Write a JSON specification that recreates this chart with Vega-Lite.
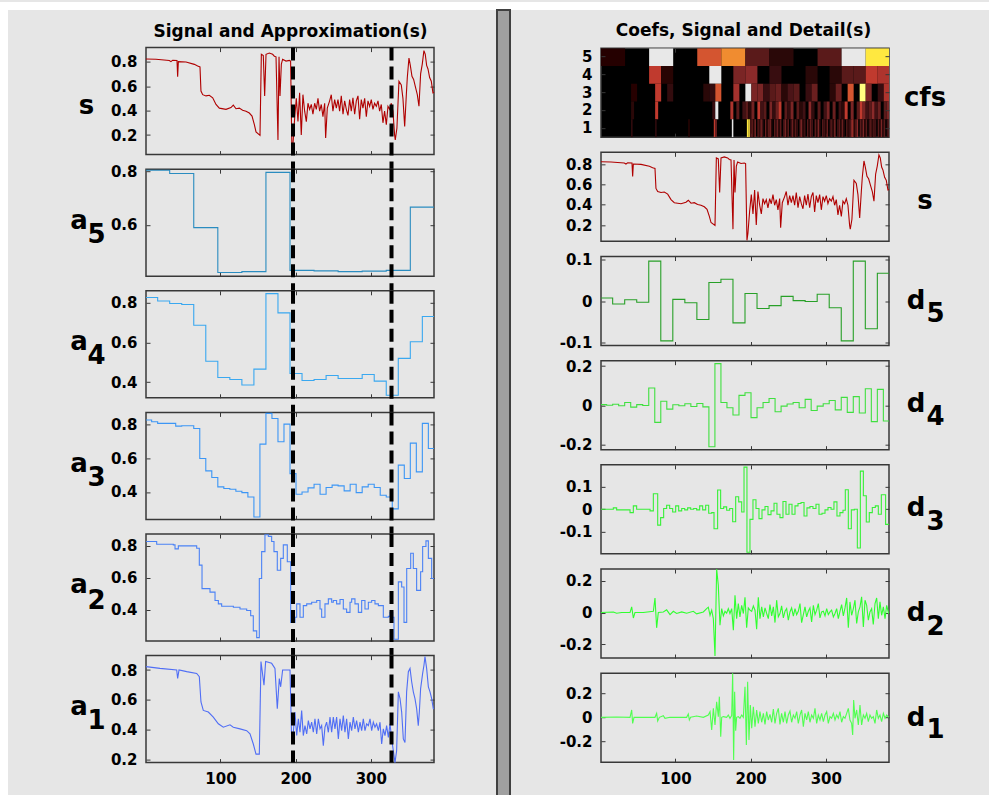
{
"padding": 0,
"background": "#e6e6e6",
"datasets": {
"s": [{"x":1,"y":0.822},{"x":14.3,"y":0.82},{"x":32,"y":0.81},{"x":34.2,"y":0.8},{"x":36.5,"y":0.812},{"x":42.2,"y":0.81},{"x":43.1,"y":0.677},{"x":44,"y":0.8},{"x":54.2,"y":0.797},{"x":65.3,"y":0.778},{"x":69.7,"y":0.764},{"x":72.8,"y":0.757},{"x":74.1,"y":0.56},{"x":76.4,"y":0.53},{"x":80.8,"y":0.52},{"x":85.2,"y":0.525},{"x":89.7,"y":0.504},{"x":94.1,"y":0.45},{"x":98.5,"y":0.42},{"x":107.4,"y":0.41},{"x":114,"y":0.425},{"x":117.1,"y":0.444},{"x":120.7,"y":0.415},{"x":125.1,"y":0.42},{"x":129.5,"y":0.403},{"x":134,"y":0.395},{"x":138.4,"y":0.38},{"x":142,"y":0.355},{"x":145.1,"y":0.285},{"x":147.3,"y":0.225},{"x":152.6,"y":0.197},{"x":154.4,"y":0.86},{"x":157,"y":0.85},{"x":158.8,"y":0.52},{"x":160.6,"y":0.86},{"x":165,"y":0.87},{"x":169.4,"y":0.86},{"x":171.7,"y":0.845},{"x":173.9,"y":0.84},{"x":176.5,"y":0.16},{"x":177.9,"y":0.84},{"x":179.2,"y":0.52},{"x":181,"y":0.78},{"x":182.7,"y":0.82},{"x":187.2,"y":0.805},{"x":191.6,"y":0.81},{"x":193.3,"y":0.805},{"x":195.1,"y":0.05},{"x":196.4,"y":0.12},{"x":198.7,"y":0.34},{"x":200.9,"y":0.5},{"x":203.1,"y":0.31},{"x":205.3,"y":0.545},{"x":207.5,"y":0.2},{"x":209.7,"y":0.53},{"x":212,"y":0.395},{"x":214.2,"y":0.31},{"x":216.4,"y":0.46},{"x":218.6,"y":0.41},{"x":220.8,"y":0.45},{"x":223,"y":0.37},{"x":225.3,"y":0.46},{"x":227.5,"y":0.41},{"x":229.7,"y":0.5},{"x":231.9,"y":0.395},{"x":234.1,"y":0.45},{"x":236.3,"y":0.35},{"x":238.6,"y":0.46},{"x":239.9,"y":0.175},{"x":242.1,"y":0.42},{"x":245.2,"y":0.48},{"x":247.4,"y":0.53},{"x":249.6,"y":0.395},{"x":251.9,"y":0.49},{"x":254.1,"y":0.42},{"x":256.3,"y":0.49},{"x":258.5,"y":0.395},{"x":260.7,"y":0.52},{"x":263,"y":0.37},{"x":265.2,"y":0.48},{"x":267.4,"y":0.41},{"x":269.6,"y":0.36},{"x":271.8,"y":0.49},{"x":274,"y":0.395},{"x":276.2,"y":0.505},{"x":278.5,"y":0.37},{"x":280.7,"y":0.48},{"x":282.9,"y":0.52},{"x":285.1,"y":0.33},{"x":287.3,"y":0.49},{"x":289.5,"y":0.42},{"x":291.8,"y":0.5},{"x":294,"y":0.35},{"x":296.2,"y":0.48},{"x":298.4,"y":0.435},{"x":300.6,"y":0.49},{"x":302.8,"y":0.41},{"x":305,"y":0.46},{"x":307.3,"y":0.435},{"x":309.5,"y":0.48},{"x":311.7,"y":0.395},{"x":313.9,"y":0.45},{"x":316.1,"y":0.3},{"x":318.3,"y":0.395},{"x":320.6,"y":0.285},{"x":322.8,"y":0.435},{"x":325,"y":0.41},{"x":327.2,"y":0.46},{"x":329.4,"y":0.395},{"x":331.6,"y":0.2},{"x":332.5,"y":0.16},{"x":334.7,"y":0.257},{"x":337.4,"y":0.64},{"x":340.5,"y":0.61},{"x":342.7,"y":0.5},{"x":345,"y":0.27},{"x":347.2,"y":0.53},{"x":348.5,"y":0.67},{"x":350.7,"y":0.83},{"x":352.5,"y":0.77},{"x":354.7,"y":0.68},{"x":356.9,"y":0.655},{"x":359.6,"y":0.585},{"x":361.8,"y":0.53},{"x":364,"y":0.435},{"x":366.2,"y":0.7},{"x":368.4,"y":0.78},{"x":370.6,"y":0.89},{"x":372.4,"y":0.86},{"x":374.2,"y":0.77},{"x":376,"y":0.74},{"x":378.2,"y":0.67},{"x":380.4,"y":0.64},{"x":382.6,"y":0.545},{"x":384,"y":0.55}],
"a5": [{"x":1,"y":0.805},{"x":32.5,"y":0.793},{"x":64.5,"y":0.59},{"x":96.5,"y":0.422},{"x":128.5,"y":0.425},{"x":160.5,"y":0.797},{"x":192.5,"y":0.43},{"x":224.5,"y":0.428},{"x":256.5,"y":0.425},{"x":288.5,"y":0.427},{"x":320.5,"y":0.43},{"x":352.5,"y":0.667},{"x":384,"y":0.667}],
"a4": [{"x":1,"y":0.825},{"x":16.5,"y":0.808},{"x":32.5,"y":0.795},{"x":48.5,"y":0.79},{"x":64.5,"y":0.686},{"x":80.5,"y":0.505},{"x":96.5,"y":0.423},{"x":112.5,"y":0.413},{"x":128.5,"y":0.385},{"x":144.5,"y":0.465},{"x":160.5,"y":0.845},{"x":176.5,"y":0.748},{"x":192.5,"y":0.443},{"x":208.5,"y":0.408},{"x":224.5,"y":0.413},{"x":240.5,"y":0.433},{"x":256.5,"y":0.418},{"x":272.5,"y":0.418},{"x":288.5,"y":0.438},{"x":304.5,"y":0.405},{"x":320.5,"y":0.334},{"x":336.5,"y":0.519},{"x":352.5,"y":0.603},{"x":368.5,"y":0.73},{"x":384,"y":0.73}],
"a3": [{"x":1,"y":0.824},{"x":8.5,"y":0.814},{"x":16.5,"y":0.804},{"x":24.5,"y":0.804},{"x":32.5,"y":0.804},{"x":40.5,"y":0.788},{"x":48.5,"y":0.79},{"x":56.5,"y":0.79},{"x":64.5,"y":0.774},{"x":72.5,"y":0.597},{"x":80.5,"y":0.524},{"x":88.5,"y":0.485},{"x":96.5,"y":0.43},{"x":104.5,"y":0.42},{"x":112.5,"y":0.416},{"x":120.5,"y":0.404},{"x":128.5,"y":0.396},{"x":136.5,"y":0.37},{"x":144.5,"y":0.252},{"x":152.5,"y":0.682},{"x":160.5,"y":0.863},{"x":168.5,"y":0.833},{"x":176.5,"y":0.696},{"x":184.5,"y":0.8},{"x":192.5,"y":0.508},{"x":200.5,"y":0.386},{"x":208.5,"y":0.4},{"x":216.5,"y":0.424},{"x":224.5,"y":0.445},{"x":232.5,"y":0.386},{"x":240.5,"y":0.426},{"x":248.5,"y":0.44},{"x":256.5,"y":0.436},{"x":264.5,"y":0.406},{"x":272.5,"y":0.445},{"x":280.5,"y":0.396},{"x":288.5,"y":0.43},{"x":296.5,"y":0.445},{"x":304.5,"y":0.426},{"x":312.5,"y":0.38},{"x":320.5,"y":0.37},{"x":328.5,"y":0.3},{"x":336.5,"y":0.558},{"x":344.5,"y":0.479},{"x":352.5,"y":0.688},{"x":360.5,"y":0.518},{"x":368.5,"y":0.804},{"x":376.5,"y":0.656},{"x":384,"y":0.656}],
"a2": [{"x":1,"y":0.825},{"x":15.2,"y":0.808},{"x":37.3,"y":0.804},{"x":39.6,"y":0.779},{"x":44,"y":0.798},{"x":68.4,"y":0.783},{"x":71.9,"y":0.678},{"x":75.5,"y":0.531},{"x":86.1,"y":0.509},{"x":92.8,"y":0.457},{"x":97.2,"y":0.436},{"x":101.6,"y":0.421},{"x":117.2,"y":0.415},{"x":126,"y":0.404},{"x":134.9,"y":0.394},{"x":140.2,"y":0.362},{"x":143.7,"y":0.267},{"x":148.2,"y":0.225},{"x":151.7,"y":0.594},{"x":154.8,"y":0.762},{"x":159.2,"y":0.867},{"x":163.7,"y":0.857},{"x":168.1,"y":0.825},{"x":171.2,"y":0.762},{"x":175.6,"y":0.646},{"x":180.1,"y":0.72},{"x":183.6,"y":0.804},{"x":188.9,"y":0.699},{"x":193.4,"y":0.32},{"x":199.1,"y":0.352},{"x":201.4,"y":0.436},{"x":205.8,"y":0.352},{"x":210.2,"y":0.425},{"x":214.7,"y":0.436},{"x":221.3,"y":0.446},{"x":228,"y":0.457},{"x":232.4,"y":0.404},{"x":234.6,"y":0.352},{"x":239,"y":0.436},{"x":243.5,"y":0.467},{"x":247.9,"y":0.446},{"x":250.1,"y":0.457},{"x":254.5,"y":0.436},{"x":259,"y":0.463},{"x":263.4,"y":0.404},{"x":267.8,"y":0.383},{"x":272.3,"y":0.446},{"x":274.5,"y":0.467},{"x":278.9,"y":0.436},{"x":283.4,"y":0.383},{"x":287.8,"y":0.457},{"x":292.2,"y":0.404},{"x":296.7,"y":0.446},{"x":301.1,"y":0.457},{"x":305.5,"y":0.436},{"x":310,"y":0.425},{"x":314.4,"y":0.425},{"x":316.6,"y":0.352},{"x":323.3,"y":0.358},{"x":325.5,"y":0.383},{"x":329,"y":0.352},{"x":330.8,"y":0.215},{"x":336.6,"y":0.573},{"x":341,"y":0.541},{"x":344.1,"y":0.32},{"x":347.7,"y":0.657},{"x":353,"y":0.752},{"x":356.5,"y":0.657},{"x":360.9,"y":0.52},{"x":366.2,"y":0.636},{"x":368.9,"y":0.794},{"x":373.3,"y":0.829},{"x":376.5,"y":0.72},{"x":380.9,"y":0.594},{"x":384,"y":0.594}],
"a1": [{"x":1,"y":0.823},{"x":19.6,"y":0.811},{"x":41.8,"y":0.8},{"x":43.1,"y":0.743},{"x":44.9,"y":0.8},{"x":55.1,"y":0.789},{"x":68.4,"y":0.777},{"x":71.9,"y":0.755},{"x":74.1,"y":0.585},{"x":77.2,"y":0.528},{"x":83.9,"y":0.517},{"x":90.5,"y":0.483},{"x":97.2,"y":0.438},{"x":103.8,"y":0.415},{"x":112.7,"y":0.431},{"x":117.1,"y":0.415},{"x":126,"y":0.404},{"x":134.9,"y":0.392},{"x":139.3,"y":0.37},{"x":143.7,"y":0.302},{"x":147.3,"y":0.234},{"x":151.7,"y":0.234},{"x":153.9,"y":0.857},{"x":157.9,"y":0.698},{"x":160.1,"y":0.857},{"x":168.1,"y":0.845},{"x":172.5,"y":0.811},{"x":175.6,"y":0.54},{"x":178.3,"y":0.743},{"x":180.1,"y":0.687},{"x":182.7,"y":0.8},{"x":192.5,"y":0.8},{"x":194.7,"y":0.336},{"x":196.9,"y":0.381},{"x":199.1,"y":0.517},{"x":201.4,"y":0.359},{"x":203.6,"y":0.472},{"x":205.8,"y":0.381},{"x":208,"y":0.528},{"x":210.2,"y":0.359},{"x":212.4,"y":0.426},{"x":214.7,"y":0.37},{"x":216.9,"y":0.46},{"x":219.1,"y":0.404},{"x":221.3,"y":0.449},{"x":223.5,"y":0.381},{"x":225.7,"y":0.472},{"x":228,"y":0.37},{"x":230.2,"y":0.472},{"x":232.4,"y":0.404},{"x":234.6,"y":0.426},{"x":236.8,"y":0.291},{"x":239,"y":0.415},{"x":241.2,"y":0.449},{"x":243.5,"y":0.381},{"x":245.7,"y":0.483},{"x":247.9,"y":0.381},{"x":250.1,"y":0.483},{"x":252.3,"y":0.404},{"x":254.5,"y":0.483},{"x":256.8,"y":0.336},{"x":259,"y":0.472},{"x":261.2,"y":0.392},{"x":263.4,"y":0.494},{"x":265.6,"y":0.381},{"x":267.8,"y":0.472},{"x":270.1,"y":0.336},{"x":272.3,"y":0.449},{"x":274.5,"y":0.392},{"x":276.7,"y":0.483},{"x":278.9,"y":0.404},{"x":281.1,"y":0.46},{"x":283.4,"y":0.381},{"x":285.6,"y":0.449},{"x":287.8,"y":0.392},{"x":290,"y":0.472},{"x":292.2,"y":0.392},{"x":294.4,"y":0.438},{"x":296.7,"y":0.426},{"x":298.9,"y":0.472},{"x":301.1,"y":0.392},{"x":303.3,"y":0.449},{"x":305.5,"y":0.415},{"x":307.7,"y":0.438},{"x":310,"y":0.392},{"x":312.2,"y":0.449},{"x":314.4,"y":0.302},{"x":316.6,"y":0.404},{"x":318.8,"y":0.359},{"x":321,"y":0.426},{"x":323.3,"y":0.347},{"x":325.5,"y":0.438},{"x":327.7,"y":0.336},{"x":329.9,"y":0.257},{"x":332.1,"y":0.177},{"x":334.3,"y":0.257},{"x":336.6,"y":0.653},{"x":338.8,"y":0.608},{"x":341,"y":0.517},{"x":343.2,"y":0.336},{"x":345.4,"y":0.313},{"x":347.6,"y":0.653},{"x":349.9,"y":0.789},{"x":352.1,"y":0.811},{"x":354.3,"y":0.721},{"x":356.5,"y":0.653},{"x":358.7,"y":0.608},{"x":360.9,"y":0.54},{"x":363.1,"y":0.426},{"x":364.5,"y":0.517},{"x":366.2,"y":0.675},{"x":368.9,"y":0.777},{"x":370.7,"y":0.834},{"x":372,"y":0.89},{"x":374.2,"y":0.811},{"x":376.5,"y":0.687},{"x":378.7,"y":0.653},{"x":380.9,"y":0.608},{"x":383.1,"y":0.54},{"x":384,"y":0.54}],
"d5": [{"x":1,"y":0.007},{"x":16.5,"y":-0.007},{"x":32.5,"y":0.003},{"x":48.5,"y":-0.003},{"x":64.5,"y":0.095},{"x":80.5,"y":-0.095},{"x":96.5,"y":0.004},{"x":112.5,"y":-0.004},{"x":128.5,"y":-0.044},{"x":144.5,"y":0.044},{"x":160.5,"y":0.052},{"x":176.5,"y":-0.052},{"x":192.5,"y":0.018},{"x":208.5,"y":-0.018},{"x":224.5,"y":-0.011},{"x":240.5,"y":0.011},{"x":256.5,"y":0.001},{"x":272.5,"y":-0.001},{"x":288.5,"y":0.016},{"x":304.5,"y":-0.016},{"x":320.5,"y":-0.095},{"x":336.5,"y":0.095},{"x":352.5,"y":-0.066},{"x":368.5,"y":0.066},{"x":384,"y":0.066}],
"d4": [{"x":1,"y":0.003},{"x":8.5,"y":0},{"x":16.5,"y":0.005},{"x":24.5,"y":-0.003},{"x":32.5,"y":0.0135},{"x":40.5,"y":-0.01},{"x":48.5,"y":0.003},{"x":56.5,"y":-0.002},{"x":64.5,"y":0.088},{"x":72.5,"y":-0.088},{"x":80.5,"y":0.02},{"x":88.5,"y":-0.02},{"x":96.5,"y":0.002},{"x":104.5,"y":-0.003},{"x":112.5,"y":0.007},{"x":120.5,"y":-0.007},{"x":128.5,"y":0.0085},{"x":136.5,"y":-0.0085},{"x":144.5,"y":-0.213},{"x":152.5,"y":0.213},{"x":160.5,"y":0.0135},{"x":168.5,"y":-0.0135},{"x":176.5,"y":-0.05},{"x":184.5,"y":0.05},{"x":192.5,"y":0.064},{"x":200.5,"y":-0.064},{"x":208.5,"y":-0.0135},{"x":216.5,"y":0.0135},{"x":224.5,"y":0.034},{"x":232.5,"y":-0.034},{"x":240.5,"y":-0.005},{"x":248.5,"y":0.006},{"x":256.5,"y":0.0135},{"x":264.5,"y":-0.0135},{"x":272.5,"y":0.03},{"x":280.5,"y":-0.027},{"x":288.5,"y":-0.005},{"x":296.5,"y":0.007},{"x":304.5,"y":0.024},{"x":312.5,"y":-0.024},{"x":320.5,"y":0.04},{"x":328.5,"y":-0.037},{"x":336.5,"y":0.044},{"x":344.5,"y":-0.04},{"x":352.5,"y":0.084},{"x":360.5,"y":-0.084},{"x":368.5,"y":0.081},{"x":376.5,"y":-0.081},{"x":384,"y":-0.081}],
"d3": [{"x":1,"y":0},{"x":17.4,"y":0.006},{"x":21.8,"y":-0.003},{"x":39.6,"y":-0.015},{"x":44,"y":0.015},{"x":48.4,"y":0},{"x":66.2,"y":-0.0075},{"x":70.6,"y":0.069},{"x":76.4,"y":-0.071},{"x":80.3,"y":-0.0375},{"x":84.3,"y":0.003},{"x":88.3,"y":0.018},{"x":92.3,"y":0.003},{"x":96.3,"y":-0.012},{"x":100.3,"y":0.015},{"x":104.3,"y":-0.0075},{"x":108.3,"y":0.003},{"x":112.3,"y":-0.003},{"x":116.2,"y":0.006},{"x":120.2,"y":0},{"x":124.2,"y":0.003},{"x":128.2,"y":-0.003},{"x":132.2,"y":0.015},{"x":136.2,"y":-0.003},{"x":140.2,"y":0.018},{"x":144.2,"y":-0.018},{"x":148.2,"y":-0.015},{"x":151.3,"y":-0.087},{"x":156.1,"y":0.086},{"x":160.1,"y":0.003},{"x":164.1,"y":0.0105},{"x":168.1,"y":-0.0045},{"x":172.1,"y":0.003},{"x":176.1,"y":-0.056},{"x":180.1,"y":0.056},{"x":184.1,"y":0.033},{"x":188.1,"y":-0.012},{"x":191.2,"y":0.188},{"x":195.1,"y":-0.192},{"x":199.1,"y":-0.045},{"x":203.1,"y":0.042},{"x":207.1,"y":0.003},{"x":211.1,"y":-0.042},{"x":215.1,"y":-0.003},{"x":219.1,"y":0.012},{"x":223.1,"y":-0.024},{"x":227.1,"y":-0.0075},{"x":231.1,"y":0.027},{"x":235,"y":-0.0225},{"x":239,"y":-0.0375},{"x":243,"y":0.0345},{"x":247,"y":-0.0225},{"x":251,"y":0.0225},{"x":255,"y":-0.0225},{"x":259,"y":0.015},{"x":263,"y":0.0255},{"x":267,"y":0.03},{"x":271,"y":-0.03},{"x":274.9,"y":0.006},{"x":278.9,"y":0.012},{"x":282.9,"y":0.003},{"x":286.9,"y":0.0225},{"x":290.9,"y":-0.0225},{"x":294.9,"y":-0.018},{"x":298.9,"y":-0.003},{"x":302.9,"y":0.0075},{"x":306.9,"y":0},{"x":310.8,"y":0.033},{"x":314.8,"y":-0.03},{"x":318.8,"y":-0.015},{"x":322.8,"y":-0.0045},{"x":325.9,"y":0.087},{"x":329.9,"y":-0.087},{"x":333.9,"y":-0.003},{"x":337.9,"y":0},{"x":341.9,"y":-0.173},{"x":345.9,"y":0.17},{"x":349.9,"y":0.06},{"x":353.8,"y":-0.057},{"x":357.8,"y":-0.015},{"x":361.8,"y":0.0075},{"x":365.8,"y":0.015},{"x":369.8,"y":-0.0225},{"x":373.8,"y":0.0645},{"x":379.5,"y":-0.0675},{"x":384,"y":-0.0675}],
"d2": [{"x":1,"y":0},{"x":17.4,"y":0.004},{"x":21.8,"y":-0.004},{"x":28.5,"y":0},{"x":39.6,"y":0},{"x":41.8,"y":0.036},{"x":44,"y":-0.034},{"x":46.2,"y":0},{"x":57.3,"y":0},{"x":70.6,"y":0.008},{"x":72.8,"y":0.092},{"x":75,"y":-0.096},{"x":77.2,"y":0},{"x":83.9,"y":0.004},{"x":88.3,"y":0.017},{"x":92.8,"y":-0.013},{"x":97.2,"y":0.008},{"x":101.6,"y":-0.006},{"x":108.3,"y":0.004},{"x":114.9,"y":-0.004},{"x":123.8,"y":0.008},{"x":128.2,"y":-0.008},{"x":137.1,"y":0.004},{"x":141.5,"y":0.025},{"x":143.7,"y":0.034},{"x":146,"y":-0.017},{"x":148.2,"y":0.015},{"x":150.4,"y":-0.038},{"x":152.6,"y":-0.273},{"x":154.8,"y":0.273},{"x":157,"y":0.172},{"x":159.2,"y":-0.08},{"x":161.5,"y":0.025},{"x":163.7,"y":-0.021},{"x":165.9,"y":0.008},{"x":168.1,"y":-0.004},{"x":170.3,"y":0.025},{"x":172.5,"y":-0.006},{"x":174.8,"y":0.025},{"x":177,"y":-0.111},{"x":179.2,"y":0.109},{"x":181.4,"y":-0.038},{"x":183.6,"y":0.057},{"x":185.8,"y":-0.027},{"x":188.1,"y":0.046},{"x":190.3,"y":-0.006},{"x":192.5,"y":0.096},{"x":194.7,"y":-0.096},{"x":196.9,"y":0.029},{"x":199.1,"y":0.015},{"x":201.4,"y":0.008},{"x":203.6,"y":0.042},{"x":205.8,"y":0.015},{"x":208,"y":-0.105},{"x":210.2,"y":0.096},{"x":212.4,"y":-0.038},{"x":214.7,"y":0.036},{"x":216.9,"y":-0.027},{"x":219.1,"y":0.029},{"x":221.3,"y":-0.006},{"x":223.5,"y":-0.038},{"x":225.7,"y":0.05},{"x":228,"y":-0.021},{"x":230.2,"y":0.036},{"x":232.4,"y":-0.063},{"x":234.6,"y":0.078},{"x":236.8,"y":-0.027},{"x":239,"y":-0.006},{"x":241.2,"y":0.042},{"x":243.5,"y":-0.034},{"x":245.7,"y":0.008},{"x":247.9,"y":0.025},{"x":250.1,"y":-0.048},{"x":252.3,"y":0.004},{"x":254.5,"y":0.029},{"x":256.8,"y":-0.023},{"x":259,"y":0.025},{"x":261.2,"y":-0.013},{"x":263.4,"y":0.008},{"x":265.6,"y":0.057},{"x":267.8,"y":-0.063},{"x":270.1,"y":-0.013},{"x":272.3,"y":0.036},{"x":274.5,"y":-0.027},{"x":276.7,"y":0.008},{"x":278.9,"y":0.029},{"x":281.1,"y":-0.059},{"x":283.4,"y":0.046},{"x":285.6,"y":-0.013},{"x":287.8,"y":0.015},{"x":290,"y":0.057},{"x":292.2,"y":-0.034},{"x":294.4,"y":0.004},{"x":296.7,"y":0.008},{"x":298.9,"y":-0.021},{"x":301.1,"y":0.025},{"x":303.3,"y":-0.013},{"x":305.5,"y":0.004},{"x":307.7,"y":0.015},{"x":310,"y":-0.027},{"x":312.2,"y":-0.006},{"x":314.4,"y":0.025},{"x":316.6,"y":-0.038},{"x":318.8,"y":0.008},{"x":321,"y":0.05},{"x":323.3,"y":-0.021},{"x":325.5,"y":0.029},{"x":327.7,"y":0.092},{"x":329.9,"y":-0.096},{"x":332.1,"y":0.067},{"x":334.3,"y":-0.017},{"x":336.6,"y":0.025},{"x":338.8,"y":0.078},{"x":341,"y":-0.069},{"x":343.2,"y":0.004},{"x":345.4,"y":0.036},{"x":347.6,"y":0.099},{"x":349.9,"y":-0.09},{"x":352.1,"y":0.078},{"x":354.3,"y":0.046},{"x":356.5,"y":-0.048},{"x":358.7,"y":0.004},{"x":360.9,"y":0.025},{"x":363.1,"y":-0.075},{"x":365.4,"y":0.057},{"x":367.6,"y":0.092},{"x":369.8,"y":-0.038},{"x":372,"y":0.067},{"x":374.2,"y":-0.017},{"x":376.5,"y":0.036},{"x":378.7,"y":-0.038},{"x":380.9,"y":0.046},{"x":383.5,"y":-0.006}],
"d1": [{"x":1,"y":0},{"x":21.8,"y":0.003},{"x":39.6,"y":0},{"x":41.8,"y":0.061},{"x":43.1,"y":-0.05},{"x":44.9,"y":0},{"x":72.8,"y":0},{"x":75,"y":0.033},{"x":76.4,"y":-0.03},{"x":78.6,"y":0},{"x":83.9,"y":0.014},{"x":86.1,"y":-0.008},{"x":92.8,"y":0},{"x":114.9,"y":0},{"x":117.1,"y":0.028},{"x":118.5,"y":-0.022},{"x":120.2,"y":0},{"x":128.2,"y":0.011},{"x":137.1,"y":0},{"x":143.7,"y":0.019},{"x":146,"y":0.047},{"x":148.2,"y":-0.105},{"x":150.4,"y":0.074},{"x":152.6,"y":-0.063},{"x":154.8,"y":0.129},{"x":157,"y":0.006},{"x":158.4,"y":0.171},{"x":160.2,"y":-0.16},{"x":161.5,"y":0},{"x":163.7,"y":0.006},{"x":168.1,"y":0},{"x":170.3,"y":0.019},{"x":172.5,"y":-0.008},{"x":174.8,"y":0.014},{"x":176.1,"y":0.364},{"x":177.4,"y":-0.353},{"x":178.7,"y":0.212},{"x":180.1,"y":-0.11},{"x":181.4,"y":0},{"x":183.6,"y":0.006},{"x":185.8,"y":-0.008},{"x":188.1,"y":0.019},{"x":190.3,"y":0},{"x":192.5,"y":0.253},{"x":194.3,"y":-0.229},{"x":196,"y":0.295},{"x":197.8,"y":-0.187},{"x":199.6,"y":0.102},{"x":201.4,"y":-0.091},{"x":203.6,"y":0.088},{"x":205.8,"y":-0.077},{"x":208,"y":0.061},{"x":210.2,"y":-0.05},{"x":212.4,"y":0.047},{"x":214.7,"y":-0.041},{"x":216.9,"y":0.033},{"x":219.1,"y":-0.058},{"x":221.3,"y":0.047},{"x":223.5,"y":-0.022},{"x":225.7,"y":0.025},{"x":228,"y":-0.041},{"x":230.2,"y":0.069},{"x":232.4,"y":-0.05},{"x":234.6,"y":0.033},{"x":236.8,"y":0.074},{"x":239,"y":-0.058},{"x":241.2,"y":0.033},{"x":243.5,"y":-0.041},{"x":245.7,"y":0.047},{"x":247.9,"y":-0.05},{"x":250.1,"y":0.019},{"x":252.3,"y":0.052},{"x":254.5,"y":-0.041},{"x":256.8,"y":0.019},{"x":259,"y":-0.008},{"x":261.2,"y":0.047},{"x":263.4,"y":-0.05},{"x":265.6,"y":0.019},{"x":267.8,"y":0.061},{"x":270.1,"y":-0.077},{"x":272.3,"y":0.033},{"x":274.5,"y":-0.022},{"x":276.7,"y":0.047},{"x":278.9,"y":-0.041},{"x":281.1,"y":0.019},{"x":283.4,"y":-0.008},{"x":285.6,"y":0.074},{"x":287.8,"y":-0.05},{"x":290,"y":0.019},{"x":292.2,"y":-0.022},{"x":294.4,"y":0.033},{"x":296.7,"y":-0.036},{"x":298.9,"y":0.019},{"x":301.1,"y":0.047},{"x":303.3,"y":-0.05},{"x":305.5,"y":0.006},{"x":307.7,"y":-0.008},{"x":310,"y":0.033},{"x":312.2,"y":-0.022},{"x":314.4,"y":0.019},{"x":316.6,"y":-0.008},{"x":318.8,"y":0.047},{"x":321,"y":-0.041},{"x":323.3,"y":0.006},{"x":325.5,"y":-0.008},{"x":327.7,"y":0.033},{"x":329.9,"y":0.074},{"x":332.1,"y":-0.022},{"x":334.3,"y":-0.05},{"x":335.7,"y":-0.146},{"x":337,"y":0.143},{"x":338.8,"y":-0.008},{"x":341,"y":0.061},{"x":343.2,"y":-0.063},{"x":345.4,"y":0.102},{"x":347.6,"y":-0.063},{"x":349.9,"y":0.019},{"x":352.1,"y":-0.008},{"x":354.3,"y":0.033},{"x":356.5,"y":-0.036},{"x":358.7,"y":0.019},{"x":360.9,"y":-0.008},{"x":363.1,"y":0.006},{"x":365.4,"y":-0.05},{"x":367.6,"y":0.061},{"x":369.8,"y":-0.008},{"x":372,"y":0.019},{"x":374.2,"y":-0.036},{"x":376.5,"y":0.033},{"x":378.7,"y":-0.008},{"x":380.9,"y":0.019},{"x":383.5,"y":0}],
"dash": [{"x":196.5},{"x":327.5}],
"cfs": [
{"l":5,"x0":1,"x1":33,"v":0.05},{"l":5,"x0":65,"x1":97,"v":1},{"l":5,"x0":129,"x1":161,"v":0.6},{"l":5,"x0":161,"x1":193,"v":0.7},{"l":5,"x0":193,"x1":225,"v":0.2},{"l":5,"x0":225,"x1":257,"v":0.1},{"l":5,"x0":289,"x1":321,"v":0.2},{"l":5,"x0":321,"x1":353,"v":1},{"l":5,"x0":353,"x1":385,"v":0.85},
{"l":4,"x0":65,"x1":81,"v":0.5},{"l":4,"x0":81,"x1":97,"v":0.08},{"l":4,"x0":145,"x1":161,"v":1},{"l":4,"x0":177,"x1":193,"v":0.3},{"l":4,"x0":193,"x1":209,"v":0.35},{"l":4,"x0":225,"x1":241,"v":0.13},{"l":4,"x0":273,"x1":289,"v":0.1},{"l":4,"x0":305,"x1":321,"v":0.1},{"l":4,"x0":321,"x1":337,"v":0.2},{"l":4,"x0":337,"x1":353,"v":0.2},{"l":4,"x0":353,"x1":369,"v":0.5},{"l":4,"x0":369,"x1":385,"v":0.45},
{"l":3,"x0":41,"x1":49,"v":0.06},{"l":3,"x0":73,"x1":81,"v":0.5},{"l":3,"x0":89,"x1":97,"v":0.12},{"l":3,"x0":137,"x1":145,"v":0.1},{"l":3,"x0":145,"x1":153,"v":0.12},{"l":3,"x0":153,"x1":161,"v":0.6},{"l":3,"x0":177,"x1":185,"v":0.42},{"l":3,"x0":193,"x1":201,"v":1},{"l":3,"x0":201,"x1":209,"v":0.3},{"l":3,"x0":209,"x1":217,"v":0.3},{"l":3,"x0":217,"x1":225,"v":0.13},{"l":3,"x0":225,"x1":233,"v":0.2},{"l":3,"x0":233,"x1":241,"v":0.25},{"l":3,"x0":241,"x1":249,"v":0.1},{"l":3,"x0":249,"x1":257,"v":0.17},{"l":3,"x0":257,"x1":265,"v":0.2},{"l":3,"x0":273,"x1":281,"v":0.13},{"l":3,"x0":281,"x1":289,"v":0.25},{"l":3,"x0":305,"x1":313,"v":0.1},{"l":3,"x0":313,"x1":321,"v":0.25},{"l":3,"x0":329,"x1":337,"v":0.6},{"l":3,"x0":345,"x1":353,"v":0.92},{"l":3,"x0":353,"x1":361,"v":0.3},{"l":3,"x0":369,"x1":377,"v":0.13},{"l":3,"x0":377,"x1":385,"v":0.45},
{"l":2,"x0":41,"x1":45,"v":0.1},{"l":2,"x0":73,"x1":77,"v":0.5},{"l":2,"x0":149,"x1":153,"v":0.13},{"l":2,"x0":153,"x1":157,"v":1},{"l":2,"x0":173,"x1":177,"v":0.45},{"l":2,"x0":181,"x1":185,"v":0.2},{"l":2,"x0":189,"x1":193,"v":0.15},{"l":2,"x0":193,"x1":197,"v":0.2},{"l":2,"x0":197,"x1":201,"v":0.1},{"l":2,"x0":201,"x1":205,"v":0.28},{"l":2,"x0":209,"x1":213,"v":0.5},{"l":2,"x0":213,"x1":217,"v":0.15},{"l":2,"x0":217,"x1":221,"v":0.2},{"l":2,"x0":225,"x1":229,"v":0.3},{"l":2,"x0":229,"x1":233,"v":0.12},{"l":2,"x0":233,"x1":237,"v":0.25},{"l":2,"x0":237,"x1":241,"v":0.5},{"l":2,"x0":245,"x1":249,"v":0.2},{"l":2,"x0":249,"x1":253,"v":0.12},{"l":2,"x0":253,"x1":257,"v":0.3},{"l":2,"x0":261,"x1":265,"v":0.2},{"l":2,"x0":265,"x1":269,"v":0.1},{"l":2,"x0":269,"x1":273,"v":0.15},{"l":2,"x0":277,"x1":281,"v":0.35},{"l":2,"x0":281,"x1":285,"v":0.12},{"l":2,"x0":289,"x1":293,"v":0.2},{"l":2,"x0":297,"x1":301,"v":0.15},{"l":2,"x0":301,"x1":305,"v":0.3},{"l":2,"x0":309,"x1":313,"v":0.25},{"l":2,"x0":317,"x1":321,"v":0.15},{"l":2,"x0":321,"x1":325,"v":0.1},{"l":2,"x0":325,"x1":329,"v":0.5},{"l":2,"x0":333,"x1":337,"v":0.3},{"l":2,"x0":341,"x1":345,"v":0.2},{"l":2,"x0":345,"x1":349,"v":0.5},{"l":2,"x0":349,"x1":353,"v":0.3},{"l":2,"x0":353,"x1":357,"v":0.15},{"l":2,"x0":357,"x1":361,"v":0.2},{"l":2,"x0":361,"x1":365,"v":0.35},{"l":2,"x0":365,"x1":369,"v":0.15},{"l":2,"x0":369,"x1":373,"v":0.25},{"l":2,"x0":377,"x1":381,"v":0.2},{"l":2,"x0":381,"x1":385,"v":0.3},
{"l":1,"x0":41,"x1":43,"v":0.12},{"l":1,"x0":73,"x1":75,"v":0.12},{"l":1,"x0":117,"x1":119,"v":0.08},{"l":1,"x0":151,"x1":153,"v":0.5},{"l":1,"x0":153,"x1":155,"v":0.3},{"l":1,"x0":175,"x1":177,"v":1},{"l":1,"x0":195,"x1":197,"v":0.85},{"l":1,"x0":197,"x1":199,"v":0.85},
{"l":1,"x0":199,"x1":201,"v":0.15},{"l":1,"x0":201,"x1":203,"v":0.25},{"l":1,"x0":203,"x1":205,"v":0.1},{"l":1,"x0":205,"x1":207,"v":0.3},{"l":1,"x0":209,"x1":211,"v":0.2},{"l":1,"x0":211,"x1":213,"v":0.12},{"l":1,"x0":213,"x1":215,"v":0.3},{"l":1,"x0":215,"x1":217,"v":0.15},{"l":1,"x0":219,"x1":221,"v":0.25},{"l":1,"x0":221,"x1":223,"v":0.1},{"l":1,"x0":223,"x1":225,"v":0.2},{"l":1,"x0":225,"x1":227,"v":0.3},{"l":1,"x0":227,"x1":229,"v":0.1},{"l":1,"x0":231,"x1":233,"v":0.2},{"l":1,"x0":233,"x1":235,"v":0.15},{"l":1,"x0":235,"x1":237,"v":0.25},{"l":1,"x0":237,"x1":239,"v":0.1},{"l":1,"x0":239,"x1":241,"v":0.2},{"l":1,"x0":243,"x1":245,"v":0.15},{"l":1,"x0":245,"x1":247,"v":0.3},{"l":1,"x0":247,"x1":249,"v":0.1},{"l":1,"x0":249,"x1":251,"v":0.2},{"l":1,"x0":253,"x1":255,"v":0.15},{"l":1,"x0":255,"x1":257,"v":0.25},{"l":1,"x0":257,"x1":259,"v":0.1},{"l":1,"x0":259,"x1":261,"v":0.2},{"l":1,"x0":261,"x1":263,"v":0.12},{"l":1,"x0":265,"x1":267,"v":0.2},{"l":1,"x0":267,"x1":269,"v":0.3},{"l":1,"x0":269,"x1":271,"v":0.1},{"l":1,"x0":271,"x1":273,"v":0.15},{"l":1,"x0":275,"x1":277,"v":0.2},{"l":1,"x0":277,"x1":279,"v":0.1},{"l":1,"x0":279,"x1":281,"v":0.25},{"l":1,"x0":281,"x1":283,"v":0.15},{"l":1,"x0":285,"x1":287,"v":0.2},{"l":1,"x0":287,"x1":289,"v":0.1},{"l":1,"x0":289,"x1":291,"v":0.3},{"l":1,"x0":291,"x1":293,"v":0.12},{"l":1,"x0":295,"x1":297,"v":0.2},{"l":1,"x0":297,"x1":299,"v":0.15},{"l":1,"x0":299,"x1":301,"v":0.1},{"l":1,"x0":301,"x1":303,"v":0.25},{"l":1,"x0":305,"x1":307,"v":0.15},{"l":1,"x0":307,"x1":309,"v":0.2},{"l":1,"x0":309,"x1":311,"v":0.1},{"l":1,"x0":311,"x1":313,"v":0.3},{"l":1,"x0":315,"x1":317,"v":0.15},{"l":1,"x0":317,"x1":319,"v":0.2},{"l":1,"x0":319,"x1":321,"v":0.1},{"l":1,"x0":321,"x1":323,"v":0.25},{"l":1,"x0":323,"x1":325,"v":0.12},{"l":1,"x0":327,"x1":329,"v":0.2},{"l":1,"x0":329,"x1":331,"v":0.1},{"l":1,"x0":331,"x1":333,"v":0.15},{"l":1,"x0":333,"x1":335,"v":0.3},{"l":1,"x0":335,"x1":337,"v":0.45},{"l":1,"x0":337,"x1":339,"v":0.1},{"l":1,"x0":339,"x1":341,"v":0.2},{"l":1,"x0":341,"x1":343,"v":0.35},{"l":1,"x0":345,"x1":347,"v":0.2},{"l":1,"x0":347,"x1":349,"v":0.15},{"l":1,"x0":349,"x1":351,"v":0.3},{"l":1,"x0":351,"x1":353,"v":0.1},{"l":1,"x0":353,"x1":355,"v":0.2},{"l":1,"x0":357,"x1":359,"v":0.15},{"l":1,"x0":359,"x1":361,"v":0.25},{"l":1,"x0":361,"x1":363,"v":0.1},{"l":1,"x0":363,"x1":365,"v":0.2},{"l":1,"x0":365,"x1":367,"v":0.15},{"l":1,"x0":369,"x1":371,"v":0.2},{"l":1,"x0":371,"x1":373,"v":0.1},{"l":1,"x0":373,"x1":375,"v":0.3},{"l":1,"x0":375,"x1":377,"v":0.12},{"l":1,"x0":377,"x1":379,"v":0.2},{"l":1,"x0":381,"x1":383,"v":0.15},{"l":1,"x0":383,"x1":385,"v":0.2}
]
},
"config": {
"view": {"stroke": "#383838", "strokeWidth": 1.5},
"axis": {"domain": false, "grid": false, "ticks": true, "tickSize": -4, "tickColor": "#383838", "tickWidth": 1, "labelFont": "DejaVu Sans", "labelFontWeight": "bold", "labelFontSize": 15, "labelColor": "#000000", "labelPadding": 13, "labelFlush": false, "labelOverlap": false, "labelBound": false, "titleFont": "DejaVu Sans", "titleFontWeight": "bold", "titleFontSize": 26, "titleColor": "#000000", "titleAngle": 0, "titleAlign": "center", "titleBaseline": "alphabetic"},
"line": {"strokeWidth": 1.1, "clip": true}
},
"spacing": 0,
"bounds": "flush",
"vconcat": [
{"width": 989, "height": 8, "view": {"fill": "#ffffff", "stroke": null}, "data": {"values": [{}]}, "mark": {"type": "text", "text": ""}},
{"spacing": 0, "bounds": "flush", "hconcat": [
{"width": 8, "height": 787, "view": {"fill": "#ffffff", "stroke": null}, "data": {"values": [{}]}, "mark": {"type": "text", "text": ""}},
{"width": 138, "height": 787, "view": {"fill": null, "stroke": null}, "data": {"values": [{}]}, "mark": {"type": "text", "text": ""}},
{"spacing": 14.6, "bounds": "flush", "vconcat": [
{"width": 288, "height": 22.4, "view": {"fill": null, "stroke": null}, "data": {"values": [{}]}, "mark": {"type": "text", "text": ""}},
{"width": 288, "height": 107, "layer": [
 {"data": {"name": "s"}, "mark": {"type": "line", "color": "#b00000"}, "encoding": {"x": {"field": "x", "type": "quantitative", "scale": {"domain": [1, 384], "nice": false, "zero": false}, "axis": {"orient": "bottom", "values": [100, 200, 300], "labels": false, "title": null}}, "y": {"field": "y", "type": "quantitative", "scale": {"domain": [0.04, 0.915], "nice": false, "zero": false}, "axis": {"orient": "left", "values": [0.2, 0.4, 0.6, 0.8], "format": ".1f", "title": "s", "titleX": -60, "titleY": 66}}}},
 {"data": {"name": "s"}, "mark": {"type": "line", "opacity": 0}, "encoding": {"x": {"field": "x", "type": "quantitative", "scale": {"domain": [1, 384], "nice": false, "zero": false}, "axis": {"orient": "top", "values": [100, 200, 300], "labels": false, "title": "Signal and Approximation(s)", "titleFontSize": 17, "titleX": 144, "titleY": -11.5}}, "y": {"field": "y", "type": "quantitative", "scale": {"domain": [0.04, 0.915], "nice": false, "zero": false}, "axis": {"orient": "right", "values": [0.2, 0.4, 0.6, 0.8], "labels": false, "title": null}}}},
 {"data": {"name": "dash"}, "mark": {"type": "rule", "color": "#000000", "strokeWidth": 4, "strokeDash": [13, 6]}, "encoding": {"x": {"field": "x", "type": "quantitative", "scale": {"domain": [1, 384], "nice": false, "zero": false}, "axis": null}, "y": {"datum": 0.915, "type": "quantitative", "scale": {"domain": [0.04, 0.915], "nice": false, "zero": false}, "axis": null}, "y2": {"datum": -0.0794}}}
], "resolve": {"scale": {"x": "independent", "y": "independent"}}},
{"width": 288, "height": 107, "layer": [
 {"data": {"name": "a5"}, "mark": {"type": "line", "color": "#2a8cc0", "interpolate": "step-after"}, "encoding": {"x": {"field": "x", "type": "quantitative", "scale": {"domain": [1, 384], "nice": false, "zero": false}, "axis": {"orient": "bottom", "values": [100, 200, 300], "labels": false, "title": "5", "titleX": -50, "titleY": -34}}, "y": {"field": "y", "type": "quantitative", "scale": {"domain": [0.408, 0.809], "nice": false, "zero": false}, "axis": {"orient": "left", "values": [0.6, 0.8], "format": ".1f", "title": "a", "titleX": -67.5, "titleY": 59.5}}}},
 {"data": {"name": "a5"}, "mark": {"type": "line", "opacity": 0}, "encoding": {"x": {"field": "x", "type": "quantitative", "scale": {"domain": [1, 384], "nice": false, "zero": false}, "axis": {"orient": "top", "values": [100, 200, 300], "labels": false, "title": null}}, "y": {"field": "y", "type": "quantitative", "scale": {"domain": [0.408, 0.809], "nice": false, "zero": false}, "axis": {"orient": "right", "values": [0.6, 0.8], "labels": false, "title": null}}}},
 {"data": {"name": "dash"}, "mark": {"type": "rule", "color": "#000000", "strokeWidth": 4, "strokeDash": [13, 6]}, "encoding": {"x": {"field": "x", "type": "quantitative", "scale": {"domain": [1, 384], "nice": false, "zero": false}, "axis": null}, "y": {"datum": 0.809, "type": "quantitative", "scale": {"domain": [0.408, 0.809], "nice": false, "zero": false}, "axis": null}, "y2": {"datum": 0.3533}}}
], "resolve": {"scale": {"x": "independent", "y": "independent"}}},
{"width": 288, "height": 107, "layer": [
 {"data": {"name": "a4"}, "mark": {"type": "line", "color": "#3aa8f0", "interpolate": "step-after"}, "encoding": {"x": {"field": "x", "type": "quantitative", "scale": {"domain": [1, 384], "nice": false, "zero": false}, "axis": {"orient": "bottom", "values": [100, 200, 300], "labels": false, "title": "4", "titleX": -50, "titleY": -34}}, "y": {"field": "y", "type": "quantitative", "scale": {"domain": [0.321, 0.859], "nice": false, "zero": false}, "axis": {"orient": "left", "values": [0.4, 0.6, 0.8], "format": ".1f", "title": "a", "titleX": -67.5, "titleY": 59}}}},
 {"data": {"name": "a4"}, "mark": {"type": "line", "opacity": 0}, "encoding": {"x": {"field": "x", "type": "quantitative", "scale": {"domain": [1, 384], "nice": false, "zero": false}, "axis": {"orient": "top", "values": [100, 200, 300], "labels": false, "title": null}}, "y": {"field": "y", "type": "quantitative", "scale": {"domain": [0.321, 0.859], "nice": false, "zero": false}, "axis": {"orient": "right", "values": [0.4, 0.6, 0.8], "labels": false, "title": null}}}},
 {"data": {"name": "dash"}, "mark": {"type": "rule", "color": "#000000", "strokeWidth": 4, "strokeDash": [13, 6]}, "encoding": {"x": {"field": "x", "type": "quantitative", "scale": {"domain": [1, 384], "nice": false, "zero": false}, "axis": null}, "y": {"datum": 0.859, "type": "quantitative", "scale": {"domain": [0.321, 0.859], "nice": false, "zero": false}, "axis": null}, "y2": {"datum": 0.2476}}}
], "resolve": {"scale": {"x": "independent", "y": "independent"}}},
{"width": 288, "height": 107, "layer": [
 {"data": {"name": "a3"}, "mark": {"type": "line", "color": "#3c96f5", "interpolate": "step-after"}, "encoding": {"x": {"field": "x", "type": "quantitative", "scale": {"domain": [1, 384], "nice": false, "zero": false}, "axis": {"orient": "bottom", "values": [100, 200, 300], "labels": false, "title": "3", "titleX": -50, "titleY": -34}}, "y": {"field": "y", "type": "quantitative", "scale": {"domain": [0.238, 0.869], "nice": false, "zero": false}, "axis": {"orient": "left", "values": [0.4, 0.6, 0.8], "format": ".1f", "title": "a", "titleX": -67.5, "titleY": 59}}}},
 {"data": {"name": "a3"}, "mark": {"type": "line", "opacity": 0}, "encoding": {"x": {"field": "x", "type": "quantitative", "scale": {"domain": [1, 384], "nice": false, "zero": false}, "axis": {"orient": "top", "values": [100, 200, 300], "labels": false, "title": null}}, "y": {"field": "y", "type": "quantitative", "scale": {"domain": [0.238, 0.869], "nice": false, "zero": false}, "axis": {"orient": "right", "values": [0.4, 0.6, 0.8], "labels": false, "title": null}}}},
 {"data": {"name": "dash"}, "mark": {"type": "rule", "color": "#000000", "strokeWidth": 4, "strokeDash": [13, 6]}, "encoding": {"x": {"field": "x", "type": "quantitative", "scale": {"domain": [1, 384], "nice": false, "zero": false}, "axis": null}, "y": {"datum": 0.869, "type": "quantitative", "scale": {"domain": [0.238, 0.869], "nice": false, "zero": false}, "axis": null}, "y2": {"datum": 0.1519}}}
], "resolve": {"scale": {"x": "independent", "y": "independent"}}},
{"width": 288, "height": 107, "layer": [
 {"data": {"name": "a2"}, "mark": {"type": "line", "color": "#4b82f5", "interpolate": "step-after"}, "encoding": {"x": {"field": "x", "type": "quantitative", "scale": {"domain": [1, 384], "nice": false, "zero": false}, "axis": {"orient": "bottom", "values": [100, 200, 300], "labels": false, "title": "2", "titleX": -50, "titleY": -33}}, "y": {"field": "y", "type": "quantitative", "scale": {"domain": [0.204, 0.872], "nice": false, "zero": false}, "axis": {"orient": "left", "values": [0.4, 0.6, 0.8], "format": ".1f", "title": "a", "titleX": -67.5, "titleY": 58}}}},
 {"data": {"name": "a2"}, "mark": {"type": "line", "opacity": 0}, "encoding": {"x": {"field": "x", "type": "quantitative", "scale": {"domain": [1, 384], "nice": false, "zero": false}, "axis": {"orient": "top", "values": [100, 200, 300], "labels": false, "title": null}}, "y": {"field": "y", "type": "quantitative", "scale": {"domain": [0.204, 0.872], "nice": false, "zero": false}, "axis": {"orient": "right", "values": [0.4, 0.6, 0.8], "labels": false, "title": null}}}},
 {"data": {"name": "dash"}, "mark": {"type": "rule", "color": "#000000", "strokeWidth": 4, "strokeDash": [13, 6]}, "encoding": {"x": {"field": "x", "type": "quantitative", "scale": {"domain": [1, 384], "nice": false, "zero": false}, "axis": null}, "y": {"datum": 0.872, "type": "quantitative", "scale": {"domain": [0.204, 0.872], "nice": false, "zero": false}, "axis": null}, "y2": {"datum": 0.1129}}}
], "resolve": {"scale": {"x": "independent", "y": "independent"}}},
{"width": 288, "height": 107, "layer": [
 {"data": {"name": "a1"}, "mark": {"type": "line", "color": "#506ef5"}, "encoding": {"x": {"field": "x", "type": "quantitative", "scale": {"domain": [1, 384], "nice": false, "zero": false}, "axis": {"orient": "bottom", "values": [100, 200, 300], "labels": true, "format": "d", "title": "1", "titleX": -50, "titleY": -34}}, "y": {"field": "y", "type": "quantitative", "scale": {"domain": [0.177, 0.897], "nice": false, "zero": false}, "axis": {"orient": "left", "values": [0.2, 0.4, 0.6, 0.8], "format": ".1f", "title": "a", "titleX": -67.5, "titleY": 59}}}},
 {"data": {"name": "a1"}, "mark": {"type": "line", "opacity": 0}, "encoding": {"x": {"field": "x", "type": "quantitative", "scale": {"domain": [1, 384], "nice": false, "zero": false}, "axis": {"orient": "top", "values": [100, 200, 300], "labels": false, "title": null}}, "y": {"field": "y", "type": "quantitative", "scale": {"domain": [0.177, 0.897], "nice": false, "zero": false}, "axis": {"orient": "right", "values": [0.2, 0.4, 0.6, 0.8], "labels": false, "title": null}}}},
 {"data": {"name": "dash"}, "mark": {"type": "rule", "color": "#000000", "strokeWidth": 4, "strokeDash": [13, 6]}, "encoding": {"x": {"field": "x", "type": "quantitative", "scale": {"domain": [1, 384], "nice": false, "zero": false}, "axis": null}}}
], "resolve": {"scale": {"x": "independent", "y": "independent"}}}
]},
{"width": 351, "height": 787, "view": {"fill": null, "stroke": null}, "data": {"values": [{}]}, "mark": {"type": "text", "text": ""}},
{"width": 13, "height": 787, "view": {"fill": "#a0a0a0", "stroke": "#404040", "strokeWidth": 2}, "data": {"values": [{}]}, "mark": {"type": "text", "text": ""}},
{"width": 91, "height": 787, "view": {"fill": null, "stroke": null}, "data": {"values": [{}]}, "mark": {"type": "text", "text": ""}},
{"spacing": 15.17, "bounds": "flush", "vconcat": [
{"width": 288, "height": 22.83, "view": {"fill": null, "stroke": null}, "data": {"values": [{}]}, "mark": {"type": "text", "text": ""}},
{"width": 288, "height": 89, "view": {"fill": "#000000"}, "layer": [
 {"data": {"name": "cfs"}, "mark": {"type": "rect", "clip": true}, "encoding": {"x": {"field": "x0", "type": "quantitative", "scale": {"domain": [1, 384], "nice": false, "zero": false}, "axis": {"orient": "bottom", "values": [100, 200, 300], "labels": false, "title": null}}, "x2": {"field": "x1"}, "y": {"field": "l", "type": "ordinal", "scale": {"domain": [5, 4, 3, 2, 1], "paddingInner": 0, "paddingOuter": 0}, "axis": {"orient": "left", "bandPosition": 0.5, "labelAngle": 0, "title": null}}, "color": {"field": "v", "type": "quantitative", "scale": {"domain": [0, 0.1, 0.2, 0.35, 0.5, 0.6, 0.7, 0.85, 0.92, 1], "range": ["#000000", "#2a0808", "#5a1a1a", "#8a2a2a", "#c03a2e", "#d45530", "#f08c30", "#ffe840", "#ffff80", "#e8e8e8"]}, "legend": null}}},
 {"data": {"name": "cfs"}, "mark": {"type": "rect", "opacity": 0}, "encoding": {"x": {"field": "x0", "type": "quantitative", "scale": {"domain": [1, 384], "nice": false, "zero": false}, "axis": {"orient": "top", "values": [100, 200, 300], "labels": false, "title": "Coefs, Signal and Detail(s)", "titleFontSize": 17, "titleX": 142, "titleY": -12.7}}, "x2": {"field": "x1"}, "y": {"field": "l", "type": "ordinal", "scale": {"domain": [5, 4, 3, 2, 1], "paddingInner": 0, "paddingOuter": 0}, "axis": {"orient": "right", "bandPosition": 0.5, "labels": false, "title": "cfs", "titleX": 35.5, "titleY": 57}}}}
], "resolve": {"scale": {"x": "independent", "y": "independent"}}},
{"width": 288, "height": 89, "layer": [
 {"data": {"name": "s"}, "mark": {"type": "line", "color": "#b00000"}, "encoding": {"x": {"field": "x", "type": "quantitative", "scale": {"domain": [1, 384], "nice": false, "zero": false}, "axis": {"orient": "bottom", "values": [100, 200, 300], "labels": false, "title": null}}, "y": {"field": "y", "type": "quantitative", "scale": {"domain": [0.04, 0.915], "nice": false, "zero": false}, "axis": {"orient": "left", "values": [0.2, 0.4, 0.6, 0.8], "format": ".1f", "title": null}}}},
 {"data": {"name": "s"}, "mark": {"type": "line", "opacity": 0}, "encoding": {"x": {"field": "x", "type": "quantitative", "scale": {"domain": [1, 384], "nice": false, "zero": false}, "axis": {"orient": "top", "values": [100, 200, 300], "labels": false, "title": null}}, "y": {"field": "y", "type": "quantitative", "scale": {"domain": [0.04, 0.915], "nice": false, "zero": false}, "axis": {"orient": "right", "values": [0.2, 0.4, 0.6, 0.8], "labels": false, "title": "s", "titleX": 35.5, "titleY": 56.5}}}}
], "resolve": {"scale": {"x": "independent", "y": "independent"}}},
{"width": 288, "height": 89, "layer": [
 {"data": {"name": "d5"}, "mark": {"type": "line", "color": "#28a028", "interpolate": "step-after"}, "encoding": {"x": {"field": "x", "type": "quantitative", "scale": {"domain": [1, 384], "nice": false, "zero": false}, "axis": {"orient": "bottom", "values": [100, 200, 300], "labels": false, "title": "5", "titleX": 334, "titleY": -24.5}}, "y": {"field": "y", "type": "quantitative", "scale": {"domain": [-0.106, 0.106], "nice": false, "zero": false}, "axis": {"orient": "left", "values": [-0.1, 0, 0.1], "format": ".1~f", "labelExpr": "replace(datum.label, '\u2212', '-')", "title": null}}}},
 {"data": {"name": "d5"}, "mark": {"type": "line", "opacity": 0}, "encoding": {"x": {"field": "x", "type": "quantitative", "scale": {"domain": [1, 384], "nice": false, "zero": false}, "axis": {"orient": "top", "values": [100, 200, 300], "labels": false, "title": null}}, "y": {"field": "y", "type": "quantitative", "scale": {"domain": [-0.106, 0.106], "nice": false, "zero": false}, "axis": {"orient": "right", "values": [-0.1, 0, 0.1], "labels": false, "title": "d", "titleX": 26.5, "titleY": 51.5}}}}
], "resolve": {"scale": {"x": "independent", "y": "independent"}}},
{"width": 288, "height": 89, "layer": [
 {"data": {"name": "d4"}, "mark": {"type": "line", "color": "#40e040", "interpolate": "step-after"}, "encoding": {"x": {"field": "x", "type": "quantitative", "scale": {"domain": [1, 384], "nice": false, "zero": false}, "axis": {"orient": "bottom", "values": [100, 200, 300], "labels": false, "title": "4", "titleX": 334, "titleY": -25}}, "y": {"field": "y", "type": "quantitative", "scale": {"domain": [-0.228, 0.228], "nice": false, "zero": false}, "axis": {"orient": "left", "values": [-0.2, 0, 0.2], "format": ".1~f", "labelExpr": "replace(datum.label, '\u2212', '-')", "title": null}}}},
 {"data": {"name": "d4"}, "mark": {"type": "line", "opacity": 0}, "encoding": {"x": {"field": "x", "type": "quantitative", "scale": {"domain": [1, 384], "nice": false, "zero": false}, "axis": {"orient": "top", "values": [100, 200, 300], "labels": false, "title": null}}, "y": {"field": "y", "type": "quantitative", "scale": {"domain": [-0.228, 0.228], "nice": false, "zero": false}, "axis": {"orient": "right", "values": [-0.2, 0, 0.2], "labels": false, "title": "d", "titleX": 26.5, "titleY": 50.5}}}}
], "resolve": {"scale": {"x": "independent", "y": "independent"}}},
{"width": 288, "height": 89, "layer": [
 {"data": {"name": "d3"}, "mark": {"type": "line", "color": "#38f038", "interpolate": "step-after"}, "encoding": {"x": {"field": "x", "type": "quantitative", "scale": {"domain": [1, 384], "nice": false, "zero": false}, "axis": {"orient": "bottom", "values": [100, 200, 300], "labels": false, "title": "3", "titleX": 334, "titleY": -24.5}}, "y": {"field": "y", "type": "quantitative", "scale": {"domain": [-0.199, 0.198], "nice": false, "zero": false}, "axis": {"orient": "left", "values": [-0.1, 0, 0.1], "format": ".1~f", "labelExpr": "replace(datum.label, '\u2212', '-')", "title": null}}}},
 {"data": {"name": "d3"}, "mark": {"type": "line", "opacity": 0}, "encoding": {"x": {"field": "x", "type": "quantitative", "scale": {"domain": [1, 384], "nice": false, "zero": false}, "axis": {"orient": "top", "values": [100, 200, 300], "labels": false, "title": null}}, "y": {"field": "y", "type": "quantitative", "scale": {"domain": [-0.199, 0.198], "nice": false, "zero": false}, "axis": {"orient": "right", "values": [-0.1, 0, 0.1], "labels": false, "title": "d", "titleX": 26.5, "titleY": 50.5}}}}
], "resolve": {"scale": {"x": "independent", "y": "independent"}}},
{"width": 288, "height": 89, "layer": [
 {"data": {"name": "d2"}, "mark": {"type": "line", "color": "#30ff30"}, "encoding": {"x": {"field": "x", "type": "quantitative", "scale": {"domain": [1, 384], "nice": false, "zero": false}, "axis": {"orient": "bottom", "values": [100, 200, 300], "labels": false, "title": "2", "titleX": 334, "titleY": -24}}, "y": {"field": "y", "type": "quantitative", "scale": {"domain": [-0.286, 0.274], "nice": false, "zero": false}, "axis": {"orient": "left", "values": [-0.2, 0, 0.2], "format": ".1~f", "labelExpr": "replace(datum.label, '\u2212', '-')", "title": null}}}},
 {"data": {"name": "d2"}, "mark": {"type": "line", "opacity": 0}, "encoding": {"x": {"field": "x", "type": "quantitative", "scale": {"domain": [1, 384], "nice": false, "zero": false}, "axis": {"orient": "top", "values": [100, 200, 300], "labels": false, "title": null}}, "y": {"field": "y", "type": "quantitative", "scale": {"domain": [-0.286, 0.274], "nice": false, "zero": false}, "axis": {"orient": "right", "values": [-0.2, 0, 0.2], "labels": false, "title": "d", "titleX": 26.5, "titleY": 51}}}}
], "resolve": {"scale": {"x": "independent", "y": "independent"}}},
{"width": 288, "height": 89, "layer": [
 {"data": {"name": "d1"}, "mark": {"type": "line", "color": "#50ff50"}, "encoding": {"x": {"field": "x", "type": "quantitative", "scale": {"domain": [1, 384], "nice": false, "zero": false}, "axis": {"orient": "bottom", "values": [100, 200, 300], "labels": true, "format": "d", "title": "1", "titleX": 334, "titleY": -25}}, "y": {"field": "y", "type": "quantitative", "scale": {"domain": [-0.371, 0.365], "nice": false, "zero": false}, "axis": {"orient": "left", "values": [-0.2, 0, 0.2], "format": ".1~f", "labelExpr": "replace(datum.label, '\u2212', '-')", "title": null}}}},
 {"data": {"name": "d1"}, "mark": {"type": "line", "opacity": 0}, "encoding": {"x": {"field": "x", "type": "quantitative", "scale": {"domain": [1, 384], "nice": false, "zero": false}, "axis": {"orient": "top", "values": [100, 200, 300], "labels": false, "title": null}}, "y": {"field": "y", "type": "quantitative", "scale": {"domain": [-0.371, 0.365], "nice": false, "zero": false}, "axis": {"orient": "right", "values": [-0.2, 0, 0.2], "labels": false, "title": "d", "titleX": 26.5, "titleY": 52}}}}
], "resolve": {"scale": {"x": "independent", "y": "independent"}}}
]},
{"width": 388, "height": 787, "view": {"fill": null, "stroke": null}, "data": {"values": [{}]}, "mark": {"type": "text", "text": ""}}
]}
]
}
